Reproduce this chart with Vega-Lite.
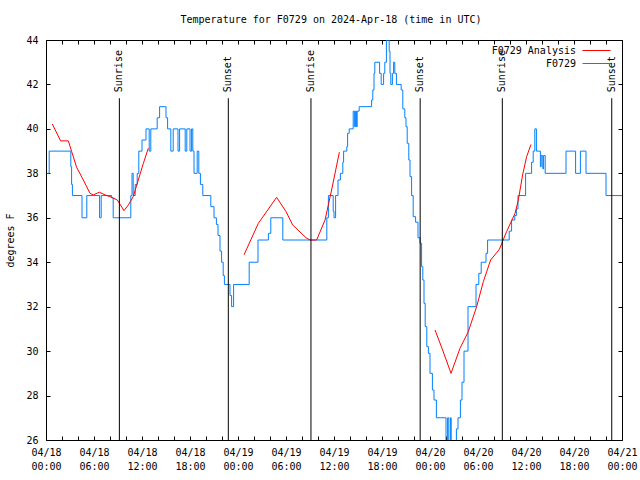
{
  "$schema": "https://vega.github.io/schema/vega-lite/v6.json",
  "width": 576,
  "height": 400,
  "autosize": {"type": "none"},
  "padding": {"left": 46, "top": 40, "right": 18, "bottom": 40},
  "background": "white",
  "title": {"text": "Temperature for F0729 on 2024-Apr-18 (time in UTC)", "font": "DejaVu Sans Mono", "fontSize": 10, "fontWeight": "normal", "color": "black", "anchor": "middle", "offset": 10, "dx": -3},
  "datasets": {
    "obs": [
      {"series":"F0729","hour":0.1,"temp":38},{"series":"F0729","hour":0.4,"temp":39},{"series":"F0729","hour":3.1,"temp":38.3},{"series":"F0729","hour":3.2,"temp":37.5},{"series":"F0729","hour":3.3,"temp":37},
      {"series":"F0729","hour":4.5,"temp":36},{"series":"F0729","hour":5.1,"temp":37},{"series":"F0729","hour":6.7,"temp":36},{"series":"F0729","hour":6.9,"temp":37},{"series":"F0729","hour":8.2,"temp":36.9},
      {"series":"F0729","hour":8.4,"temp":36},{"series":"F0729","hour":10.6,"temp":37},{"series":"F0729","hour":10.75,"temp":38},{"series":"F0729","hour":10.9,"temp":37},{"series":"F0729","hour":11.15,"temp":37.5},
      {"series":"F0729","hour":11.4,"temp":38},{"series":"F0729","hour":11.6,"temp":39},{"series":"F0729","hour":12.0,"temp":39.5},{"series":"F0729","hour":12.5,"temp":40},{"series":"F0729","hour":12.9,"temp":39},
      {"series":"F0729","hour":13.1,"temp":40},{"series":"F0729","hour":13.9,"temp":40.5},{"series":"F0729","hour":14.2,"temp":41},{"series":"F0729","hour":15.0,"temp":40.5},{"series":"F0729","hour":15.2,"temp":40},
      {"series":"F0729","hour":15.6,"temp":39},{"series":"F0729","hour":15.9,"temp":40},{"series":"F0729","hour":16.5,"temp":39},{"series":"F0729","hour":16.7,"temp":40},{"series":"F0729","hour":17.4,"temp":39},
      {"series":"F0729","hour":17.6,"temp":40},{"series":"F0729","hour":18.0,"temp":39},{"series":"F0729","hour":18.2,"temp":40},{"series":"F0729","hour":18.35,"temp":39},{"series":"F0729","hour":18.5,"temp":38},
      {"series":"F0729","hour":18.9,"temp":39},{"series":"F0729","hour":19.1,"temp":38},{"series":"F0729","hour":19.3,"temp":37.5},{"series":"F0729","hour":19.6,"temp":37},{"series":"F0729","hour":20.6,"temp":36.5},
      {"series":"F0729","hour":21.0,"temp":36},{"series":"F0729","hour":21.3,"temp":35.7},{"series":"F0729","hour":21.5,"temp":35.2},{"series":"F0729","hour":21.75,"temp":34.5},{"series":"F0729","hour":21.95,"temp":34},
      {"series":"F0729","hour":22.15,"temp":33.4},{"series":"F0729","hour":22.3,"temp":33},{"series":"F0729","hour":23.0,"temp":32.5},{"series":"F0729","hour":23.2,"temp":32},{"series":"F0729","hour":23.45,"temp":33},
      {"series":"F0729","hour":25.4,"temp":34},{"series":"F0729","hour":26.5,"temp":35},{"series":"F0729","hour":27.8,"temp":35.3},{"series":"F0729","hour":28.1,"temp":36},{"series":"F0729","hour":29.6,"temp":35},
      {"series":"F0729","hour":35.1,"temp":36},{"series":"F0729","hour":35.3,"temp":37},{"series":"F0729","hour":35.9,"temp":36.3},{"series":"F0729","hour":36.0,"temp":36},{"series":"F0729","hour":36.2,"temp":37},
      {"series":"F0729","hour":36.5,"temp":37.7},{"series":"F0729","hour":36.8,"temp":38},{"series":"F0729","hour":37.1,"temp":38.5},{"series":"F0729","hour":37.2,"temp":39},{"series":"F0729","hour":37.6,"temp":39.2},
      {"series":"F0729","hour":37.7,"temp":39.8},{"series":"F0729","hour":37.9,"temp":40},{"series":"F0729","hour":38.4,"temp":40.8},{"series":"F0729","hour":38.55,"temp":40.1},{"series":"F0729","hour":38.7,"temp":40.8},
      {"series":"F0729","hour":38.8,"temp":40.1},{"series":"F0729","hour":38.9,"temp":40.8},{"series":"F0729","hour":39.15,"temp":41},{"series":"F0729","hour":40.7,"temp":41.3},{"series":"F0729","hour":40.85,"temp":41.75},
      {"series":"F0729","hour":41.0,"temp":42.5},{"series":"F0729","hour":41.1,"temp":43},{"series":"F0729","hour":41.7,"temp":42.5},{"series":"F0729","hour":41.9,"temp":42},{"series":"F0729","hour":42.2,"temp":42.5},
      {"series":"F0729","hour":42.35,"temp":43},{"series":"F0729","hour":42.55,"temp":44},{"series":"F0729","hour":42.9,"temp":43.5},{"series":"F0729","hour":43.0,"temp":42.5},{"series":"F0729","hour":43.1,"temp":42},
      {"series":"F0729","hour":43.3,"temp":42.5},{"series":"F0729","hour":43.45,"temp":43},{"series":"F0729","hour":43.6,"temp":42.5},{"series":"F0729","hour":43.8,"temp":42},{"series":"F0729","hour":44.4,"temp":41.75},
      {"series":"F0729","hour":44.6,"temp":40.9},{"series":"F0729","hour":44.85,"temp":40.5},{"series":"F0729","hour":45.0,"temp":40.1},{"series":"F0729","hour":45.15,"temp":39.35},{"series":"F0729","hour":45.35,"temp":38.6},
      {"series":"F0729","hour":45.5,"temp":37.85},{"series":"F0729","hour":45.7,"temp":37},{"series":"F0729","hour":45.9,"temp":36.05},{"series":"F0729","hour":46.2,"temp":35.8},{"series":"F0729","hour":46.5,"temp":35.1},
      {"series":"F0729","hour":46.75,"temp":34.85},{"series":"F0729","hour":46.95,"temp":33.8},{"series":"F0729","hour":47.1,"temp":33.2},{"series":"F0729","hour":47.25,"temp":32.15},{"series":"F0729","hour":47.4,"temp":31.1},
      {"series":"F0729","hour":47.6,"temp":30.2},{"series":"F0729","hour":47.8,"temp":29.9},{"series":"F0729","hour":48.0,"temp":29.0},{"series":"F0729","hour":48.3,"temp":28.25},{"series":"F0729","hour":48.5,"temp":27.8},
      {"series":"F0729","hour":48.8,"temp":27},{"series":"F0729","hour":50.0,"temp":25.5},{"series":"F0729","hour":50.2,"temp":27},{"series":"F0729","hour":50.35,"temp":25.5},{"series":"F0729","hour":50.55,"temp":27},
      {"series":"F0729","hour":50.65,"temp":25.5},{"series":"F0729","hour":51.3,"temp":26.5},{"series":"F0729","hour":51.5,"temp":27},{"series":"F0729","hour":51.8,"temp":27.8},{"series":"F0729","hour":52.0,"temp":28.6},
      {"series":"F0729","hour":52.25,"temp":30},{"series":"F0729","hour":52.75,"temp":32},{"series":"F0729","hour":53.75,"temp":33},{"series":"F0729","hour":54.1,"temp":33.5},{"series":"F0729","hour":54.4,"temp":34},
      {"series":"F0729","hour":55.0,"temp":34.4},{"series":"F0729","hour":55.2,"temp":35},{"series":"F0729","hour":57.9,"temp":35.4},{"series":"F0729","hour":58.2,"temp":35.9},{"series":"F0729","hour":58.6,"temp":36.1},
      {"series":"F0729","hour":58.8,"temp":36.4},{"series":"F0729","hour":59.0,"temp":37},{"series":"F0729","hour":59.95,"temp":38},{"series":"F0729","hour":60.7,"temp":38.5},{"series":"F0729","hour":60.9,"temp":39},
      {"series":"F0729","hour":61.1,"temp":40},{"series":"F0729","hour":61.3,"temp":39},{"series":"F0729","hour":61.8,"temp":38.3},{"series":"F0729","hour":61.9,"temp":38.8},{"series":"F0729","hour":62.1,"temp":38.2},
      {"series":"F0729","hour":62.2,"temp":38.8},{"series":"F0729","hour":62.4,"temp":38},{"series":"F0729","hour":65.0,"temp":39},{"series":"F0729","hour":66.2,"temp":38},{"series":"F0729","hour":66.8,"temp":39},
      {"series":"F0729","hour":67.5,"temp":38},{"series":"F0729","hour":70.0,"temp":37},{"series":"F0729","hour":72.0,"temp":37}
    ],
    "analysis": [
      {"series":"F0729 Analysis","seg":1,"hour":0.79,"temp":40.22},{"series":"F0729 Analysis","seg":1,"hour":1.83,"temp":39.46},{"series":"F0729 Analysis","seg":1,"hour":2.79,"temp":39.46},
      {"series":"F0729 Analysis","seg":1,"hour":3.21,"temp":38.98},{"series":"F0729 Analysis","seg":1,"hour":3.83,"temp":38.27},{"series":"F0729 Analysis","seg":1,"hour":4.67,"temp":37.7},
      {"series":"F0729 Analysis","seg":1,"hour":5.5,"temp":37.1},{"series":"F0729 Analysis","seg":1,"hour":5.92,"temp":37.03},{"series":"F0729 Analysis","seg":1,"hour":6.67,"temp":37.15},
      {"series":"F0729 Analysis","seg":1,"hour":7.38,"temp":37.03},{"series":"F0729 Analysis","seg":1,"hour":8.2,"temp":36.92},{"series":"F0729 Analysis","seg":1,"hour":8.92,"temp":36.8},
      {"series":"F0729 Analysis","seg":1,"hour":9.75,"temp":36.32},{"series":"F0729 Analysis","seg":1,"hour":10.3,"temp":36.58},{"series":"F0729 Analysis","seg":1,"hour":10.9,"temp":36.95},
      {"series":"F0729 Analysis","seg":1,"hour":11.54,"temp":37.7},{"series":"F0729 Analysis","seg":1,"hour":12.17,"temp":38.45},{"series":"F0729 Analysis","seg":1,"hour":12.79,"temp":39.13},
      {"series":"F0729 Analysis","seg":2,"hour":24.75,"temp":34.33},{"series":"F0729 Analysis","seg":2,"hour":26.54,"temp":35.75},{"series":"F0729 Analysis","seg":2,"hour":28.83,"temp":36.92},
      {"series":"F0729 Analysis","seg":2,"hour":30.0,"temp":36.28},{"series":"F0729 Analysis","seg":2,"hour":30.83,"temp":35.68},{"series":"F0729 Analysis","seg":2,"hour":32.5,"temp":35.1},
      {"series":"F0729 Analysis","seg":2,"hour":33.0,"temp":35.0},{"series":"F0729 Analysis","seg":2,"hour":33.83,"temp":35.0},{"series":"F0729 Analysis","seg":2,"hour":34.88,"temp":35.9},
      {"series":"F0729 Analysis","seg":2,"hour":35.7,"temp":37.25},{"series":"F0729 Analysis","seg":2,"hour":36.67,"temp":38.95},
      {"series":"F0729 Analysis","seg":3,"hour":48.63,"temp":30.95},{"series":"F0729 Analysis","seg":3,"hour":49.58,"temp":30.05},{"series":"F0729 Analysis","seg":3,"hour":50.63,"temp":29.0},
      {"series":"F0729 Analysis","seg":3,"hour":51.75,"temp":30.13},{"series":"F0729 Analysis","seg":3,"hour":52.79,"temp":30.88},{"series":"F0729 Analysis","seg":3,"hour":53.83,"temp":32.0},
      {"series":"F0729 Analysis","seg":3,"hour":54.67,"temp":33.13},{"series":"F0729 Analysis","seg":3,"hour":55.58,"temp":34.1},{"series":"F0729 Analysis","seg":3,"hour":56.67,"temp":34.58},
      {"series":"F0729 Analysis","seg":3,"hour":57.58,"temp":35.38},{"series":"F0729 Analysis","seg":3,"hour":58.63,"temp":36.2},{"series":"F0729 Analysis","seg":3,"hour":59.04,"temp":36.8},
      {"series":"F0729 Analysis","seg":3,"hour":59.58,"temp":37.93},{"series":"F0729 Analysis","seg":3,"hour":60.08,"temp":38.75},{"series":"F0729 Analysis","seg":3,"hour":60.63,"temp":39.3}
    ],
    "sun": [
      {"hour":9.17,"event":"Sunrise"},{"hour":22.79,"event":"Sunset"},{"hour":33.12,"event":"Sunrise"},
      {"hour":46.77,"event":"Sunset"},{"hour":57.04,"event":"Sunrise"},{"hour":70.72,"event":"Sunset"}
    ]
  },
  "layer": [
    {
      "data": {"name": "obs"},
      "mark": {"type": "line", "strokeWidth": 1, "interpolate": "step-after", "clip": true},
      "encoding": {
        "x": {"field": "hour", "type": "quantitative", "scale": {"domain": [0, 72], "nice": false, "zero": false},
          "axis": {"orient": "top", "title": null, "labels": false, "values": [0,2,4,6,8,10,12,14,16,18,20,22,24,26,28,30,32,34,36,38,40,42,44,46,48,50,52,54,56,58,60,62,64,66,68,70,72], "tickSize": -4}},
        "y": {"field": "temp", "type": "quantitative", "scale": {"domain": [26, 44], "nice": false, "zero": false},
          "axis": {"orient": "right", "title": null, "labels": false, "values": [26,28,30,32,34,36,38,40,42,44], "tickSize": -4}},
        "color": {"field": "series", "type": "nominal", "scale": {"domain": ["F0729 Analysis", "F0729"], "range": ["#ff0000", "#0080ff"]},
          "legend": {"title": null, "orient": "none", "legendX": 543, "legendY": 3, "symbolType": "M-2,0H2", "symbolSize": 196, "symbolStrokeWidth": 1, "symbolFillColor": "transparent", "labelAlign": "right", "labelOffset": -28, "padding": 0, "rowPadding": -2, "labelFont": "DejaVu Sans Mono", "labelFontSize": 10, "labelColor": "black"}}
      }
    },
    {
      "data": {"name": "analysis"},
      "mark": {"type": "line", "strokeWidth": 1, "clip": true},
      "encoding": {
        "x": {"field": "hour", "type": "quantitative",
          "axis": {"orient": "bottom", "title": null, "values": [0,2,4,6,8,10,12,14,16,18,20,22,24,26,28,30,32,34,36,38,40,42,44,46,48,50,52,54,56,58,60,62,64,66,68,70,72], "tickSize": -4,
            "labelExpr": "datum.value % 6 == 0 ? ['04/' + (18 + floor(datum.value / 24)), (datum.value % 24 < 10 ? '0' : '') + (datum.value % 24) + ':00'] : ''",
            "labelFlush": false, "labelOverlap": false, "labelPadding": 11, "labelLineHeight": 14}},
        "y": {"field": "temp", "type": "quantitative",
          "axis": {"orient": "left", "title": "degrees F", "values": [26,28,30,32,34,36,38,40,42,44], "tickSize": -4, "labelPadding": 12, "titlePadding": 10}},
        "color": {"field": "series", "type": "nominal"},
        "detail": {"field": "seg"}
      }
    },
    {
      "data": {"name": "sun"},
      "mark": {"type": "rule", "color": "black", "strokeWidth": 1},
      "encoding": {
        "x": {"field": "hour", "type": "quantitative", "axis": null},
        "y": {"datum": 26, "axis": null},
        "y2": {"datum": 41.38}
      }
    },
    {
      "data": {"name": "sun"},
      "mark": {"type": "text", "angle": 270, "align": "left", "baseline": "middle", "font": "DejaVu Sans Mono", "fontSize": 10, "color": "black"},
      "encoding": {
        "x": {"field": "hour", "type": "quantitative", "axis": null},
        "y": {"datum": 41.65, "axis": null},
        "text": {"field": "event"}
      }
    }
  ],
  "resolve": {"axis": {"x": "independent", "y": "independent"}},
  "config": {
    "font": "DejaVu Sans Mono",
    "view": {"stroke": "black", "strokeWidth": 1},
    "axis": {"grid": false, "domain": false, "tickColor": "black", "labelColor": "black", "labelFont": "DejaVu Sans Mono", "labelFontSize": 10, "titleFont": "DejaVu Sans Mono", "titleFontSize": 10, "titleFontWeight": "normal", "titleColor": "black"}
  }
}
